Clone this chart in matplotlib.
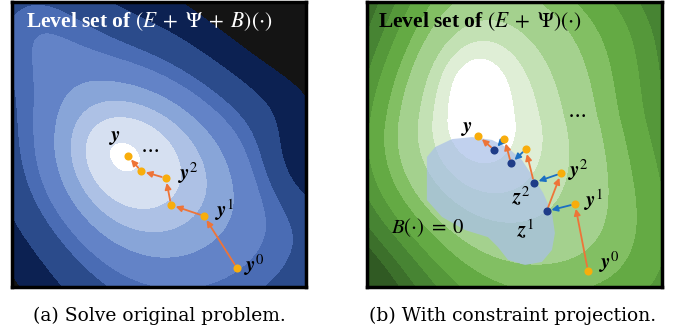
import numpy as np
import matplotlib
matplotlib.use("Agg")
import matplotlib.pyplot as plt
from matplotlib.patches import Polygon

plt.rcParams['mathtext.fontset'] = 'stix'
plt.rcParams['font.family'] = ['DejaVu Serif']

# ---- level-set fields (egg-shaped bowl + a few bumps), unit square coords ----
# shape: ecc/theta0 = egg asymmetry, diag = stretch along the lower-right diagonal,
# sy_up / sy_dn = vertical scaling above / below the centre
left_center = (0.37, 0.465)
left_shape = dict(ecc=0.32, theta0=-25.0, diag=1.15, sy_up=1.0, sy_dn=1.0)
left_bumps = [(1.00, 1.00, 0.30, 0.25), (1.05, 0.45, 0.12, 0.20),
              (0.00, 1.00, 0.20, -0.28), (0.00, 0.00, 0.20, 0.05)]
left_levels = [0.05, 0.146, 0.205, 0.27, 0.35, 0.41, 0.53, 0.665]
left_colors = ['#ffffff', '#d6e0f1', '#adc1e5', '#88a5d8', '#6383c7', '#4a6cb4',
               '#2b4b8b', '#0c2152', '#141414']

right_center = (0.36, 0.60)
right_shape = dict(ecc=0.30, theta0=-45.0, diag=1.0, sy_up=0.57, sy_dn=0.85)
right_bumps = [(0.37, 0.74, 0.08, -0.05), (0.95, 0.95, 0.20, -0.05),
               (0.00, 0.00, 0.20, 0.10), (1.00, 0.00, 0.30, -0.12),
               (0.00, 0.95, 0.20, 0.04)]
right_levels = [0.105, 0.17, 0.231, 0.313, 0.368, 0.433, 0.489, 0.55, 0.60]
right_colors = ['#ffffff', '#dfeed6', '#c3e1b4', '#a4d18e', '#82bf63', '#64aa44',
                '#55983a', '#478433', '#3c702b', '#305a23']

# ---- iterates ----
left_y_x = [0.765, 0.653, 0.541, 0.523, 0.439, 0.394]
left_y_y = [0.067, 0.249, 0.288, 0.382, 0.407, 0.460]

right_y_x = [0.749, 0.705, 0.658, 0.538, 0.466, 0.377]
right_y_y = [0.057, 0.291, 0.399, 0.483, 0.520, 0.530]
right_z_x = [0.609, 0.566, 0.488, 0.431]
right_z_y = [0.266, 0.366, 0.434, 0.481]

# feasible set B(.) = 0 outline
blob_x = [0.203, 0.203, 0.254, 0.332, 0.410, 0.444, 0.478, 0.536, 0.593, 0.627,
          0.637, 0.627, 0.597, 0.563, 0.525, 0.478, 0.424, 0.356, 0.288, 0.231]
blob_y = [0.456, 0.305, 0.246, 0.200, 0.175, 0.140, 0.095, 0.077, 0.088, 0.130,
          0.189, 0.260, 0.330, 0.386, 0.446, 0.488, 0.516, 0.526, 0.519, 0.491]

left_labels = [(0.350, 0.523, r'$\mathbfit{y}$'), (0.469, 0.485, r'$\cdots$'),
               (0.600, 0.400, r'$\mathbfit{y}^2$'), (0.725, 0.270, r'$\mathbfit{y}^1$'),
               (0.825, 0.077, r'$\mathbfit{y}^0$')]
right_labels = [(0.338, 0.557, r'$\mathbfit{y}$'), (0.711, 0.608, r'$\cdots$'),
                (0.715, 0.411, r'$\mathbfit{y}^2$'), (0.767, 0.305, r'$\mathbfit{y}^1$'),
                (0.821, 0.088, r'$\mathbfit{y}^0$'), (0.524, 0.317, r'$\mathbfit{z}^2$'),
                (0.536, 0.200, r'$\mathbfit{z}^1$')]

ORANGE_ARROW = '#ee7438'
BLUE_ARROW = '#1c6fc2'
ORANGE_DOT = '#f8ad0c'
BLUE_DOT = '#1f3c88'


def level_field(center, shape, bumps, n=400):
    x = np.linspace(0, 1, n)
    X, Y = np.meshgrid(x, x)
    dx = X - center[0]
    dy = Y - center[1]
    dy = dy * np.where(dy > 0, shape['sy_up'], shape['sy_dn'])
    u = (dx - dy) / np.sqrt(2) / shape['diag']
    v = (dx + dy) / np.sqrt(2)
    r = np.hypot(u, v)
    th = np.arctan2(dy, dx)
    f = r * (1 - shape['ecc'] * np.cos(th - np.deg2rad(shape['theta0'])))
    for bx, by, s, a in bumps:
        f += a * np.exp(-((X - bx) ** 2 + (Y - by) ** 2) / (2 * s ** 2))
    return X, Y, f


def draw_panel(ax, center, shape, bumps, levels, colors):
    X, Y, f = level_field(center, shape, bumps)
    ax.contourf(X, Y, f, levels=[-10] + levels + [10], colors=colors)
    ax.set_xlim(0, 1)
    ax.set_ylim(0, 1)
    ax.set_xticks([])
    ax.set_yticks([])
    for sp in ax.spines.values():
        sp.set_linewidth(2.5)
        sp.set_color('black')


def arrow(ax, p, q, color):
    ax.annotate('', xy=q, xytext=p,
                arrowprops=dict(arrowstyle='-|>', color=color, lw=1.3,
                                mutation_scale=9, shrinkA=3, shrinkB=3.5),
                zorder=4)


fig = plt.figure(figsize=(6.76, 3.30), dpi=100)
axl = fig.add_axes([12 / 676, 1 - 287 / 330, 294 / 676, 285 / 330])
axr = fig.add_axes([367 / 676, 1 - 287 / 330, 295 / 676, 285 / 330])

# (a) left
draw_panel(axl, left_center, left_shape, left_bumps, left_levels, left_colors)
for i in range(len(left_y_x) - 1):
    arrow(axl, (left_y_x[i], left_y_y[i]), (left_y_x[i + 1], left_y_y[i + 1]), ORANGE_ARROW)
axl.scatter(left_y_x, left_y_y, s=34, color=ORANGE_DOT, zorder=5, linewidths=0)
for x, y, t in left_labels:
    axl.text(x, y, t, fontsize=15, ha='center', va='center', zorder=6)
axl.text(0.048, 0.93, r'Level set of $(E\;+\;\Psi\;+\;B)(\cdot)$', color='white',
         fontsize=15.5, fontweight='bold', family='Liberation Serif', va='center')

# (b) right
draw_panel(axr, right_center, right_shape, right_bumps, right_levels, right_colors)
axr.add_patch(Polygon(np.column_stack([blob_x, blob_y]), closed=True,
                      facecolor='#a9c0e8', edgecolor='none', alpha=0.72, zorder=3))
path_x, path_y = [right_y_x[0]], [right_y_y[0]]
for i in range(len(right_z_x)):
    path_x += [right_y_x[i + 1], right_z_x[i]]
    path_y += [right_y_y[i + 1], right_z_y[i]]
path_x.append(right_y_x[-1])
path_y.append(right_y_y[-1])
for i in range(len(path_x) - 1):
    c = BLUE_ARROW if i % 2 == 1 else ORANGE_ARROW
    arrow(axr, (path_x[i], path_y[i]), (path_x[i + 1], path_y[i + 1]), c)
axr.scatter(right_y_x, right_y_y, s=34, color=ORANGE_DOT, zorder=5, linewidths=0)
axr.scatter(right_z_x, right_z_y, s=34, color=BLUE_DOT, zorder=5, linewidths=0)
for x, y, t in right_labels:
    axr.text(x, y, t, fontsize=15, ha='center', va='center', zorder=6)
axr.text(0.207, 0.208, r'$B(\cdot)\;=\;0$', fontsize=15, ha='center', va='center', zorder=6)
axr.text(0.037, 0.93, r'Level set of $(E\;+\;\Psi)(\cdot)$', color='black',
         fontsize=15.5, fontweight='bold', family='Liberation Serif', va='center')

# captions
fig.text(159 / 676, 1 - 316 / 330, '(a) Solve original problem.', ha='center',
         va='center', fontsize=13.5)
fig.text(513 / 676, 1 - 316 / 330, '(b) With constraint projection.', ha='center',
         va='center', fontsize=13.5)

fig.savefig('out.png', dpi=100)
